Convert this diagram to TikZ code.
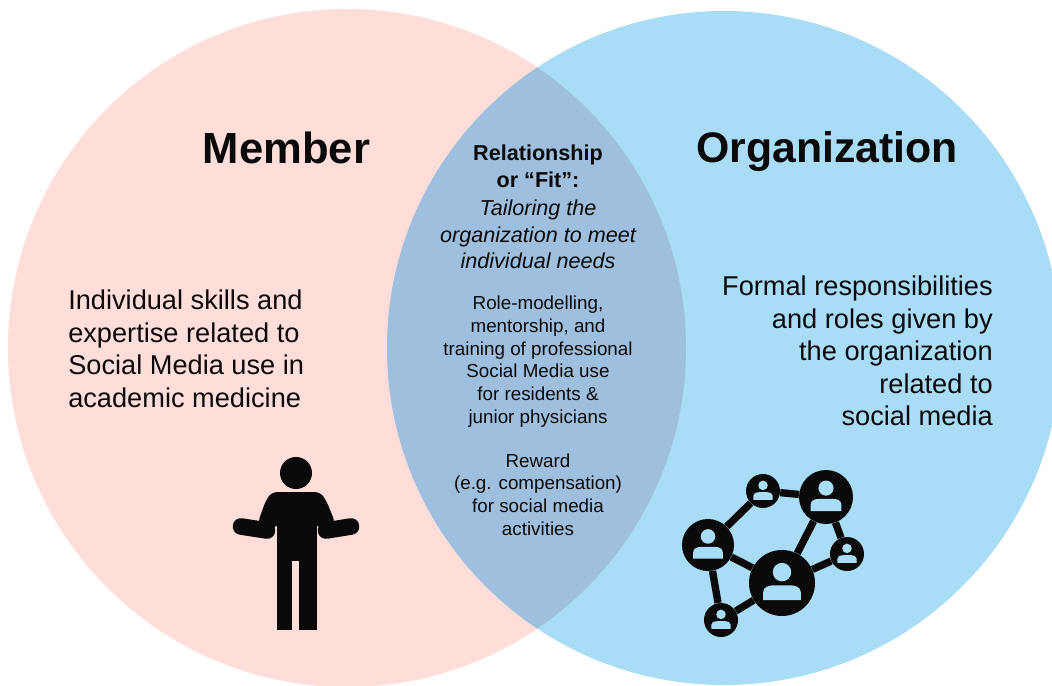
\documentclass[tikz,border=0pt]{standalone}
\usepackage{fontspec}
\setmainfont{Liberation Sans}
\usetikzlibrary{positioning}
\definecolor{memberpink}{HTML}{FFDEDA}
\definecolor{orgblue}{HTML}{A9DCF7}
\definecolor{fitblue}{HTML}{9FBFDE}
\definecolor{inkblack}{HTML}{0A0A0A}

\begin{document}
\begin{tikzpicture}[
			x=.75pt, y=-.75pt
			,every node/.append style={text=inkblack, inner sep=0pt}
			,title/.style={font=\fontsize{32.4}{38}\selectfont\bfseries}
			,body/.style={font=\fontsize{20.4}{24.4}\selectfont}
			,fit head/.style={font=\fontsize{16.2}{19.9}\bfseries\selectfont, align=center}
			,fit aim/.style={font=\fontsize{16.2}{19.7}\itshape\selectfont, align=center}
			,fit text/.style={font=\fontsize{14.1}{17}\selectfont, align=center}
			,user/.style={circle, fill=inkblack, minimum size=#1*1.5pt}
			,link/.style={draw=inkblack, line width=5.5pt}
			,arm/.style={draw=inkblack, line width=12.5pt, line cap=round}
		]
			\clip (0,0) rectangle (1052,685);
			\fill[white] (0,0) rectangle (1052,685);
			\coordinate (M) at (347,348);
			\coordinate (O) at (724,348);
			\fill[memberpink] (M) circle [radius=339];
			\fill[orgblue] (O) circle [radius=337];
			\begin{scope}
				\clip (M) circle [radius=339];
				\fill[fitblue] (O) circle [radius=337];
			\end{scope}

			% titles
			\node [title, font=\fontsize{32.7}{38}\selectfont\bfseries] (member) at (286.5,148) {Member};
			\node [title, font=\fontsize{32.1}{38}\selectfont\bfseries] (org) at (827,152) {Organization};

			% side texts
			\node [body, align=left, anchor=west] (skills) at (68,349) {Individual skills and\\expertise related to\\Social Media use in\\academic medicine};
			\node [body, align=right, anchor=east] (roles) at (993,351) {Formal responsibilities\\and roles given by\\the organization\\related to\\social media};

			% overlap
			\node [fit head] (fit) at (538,166.5) {Relationship\\or “Fit”:};
			\node [fit aim, below=9pt of fit] (tailor) {Tailoring the\\organization to meet\\individual needs};
			\node [fit text] (model) at (538,361.5) {Role-modelling,\\mentorship, and\\training of professional\\Social Media use\\for residents \&\\junior physicians};
			\node [fit text] (reward) at (538,494.5) {Reward\\(e.g. compensation)\\for social media\\activities};

			% person
			\node [circle, fill=inkblack, minimum size=24pt] (head) at (296,473) {};
			\fill[inkblack, rounded corners=4pt] (272,492) -- (320,492) -- (326,500) -- (335,522) -- (328,539) -- (317,524) -- (277,524) -- (265,539) -- (258,522) -- (266,500) -- cycle;
			\draw [arm] (351,526.5) -- (326,530.5);
			\draw [arm] (241,526.5) -- (267,530.5);
			\fill[inkblack] (277,515) rectangle (317,561);
			\fill[inkblack] (277,555) rectangle (292,630);
			\fill[inkblack] (299,555) rectangle (317,630);

			% network
			\foreach \n/\px/\py/\r in {big/782/583/33, left/708/545/26, top/763/491/17, corner/826/497/27, right/847/554/17, low/721/620/17} {
				\node [user=\r] (\n) at (\px,\py) {};
				\begin{scope}[shift={(\n)}, scale=\r]
					\fill[orgblue] (0,-.33) circle [radius=.28];
					\fill[orgblue] (-.57,.52) -- (-.57,.28) .. controls (-.57,.12) and (-.4,.07) .. (-.25,.07) -- (.25,.07) .. controls (.4,.07) and (.57,.12) .. (.57,.28) -- (.57,.52) -- cycle;
				\end{scope}
			}
			\foreach \a/\b in {left/top, top/corner, corner/big, corner/right, right/big, big/left, left/low, low/big} {
				\draw [link] (\a) -- (\b);
			}
		\end{tikzpicture}
\end{document}
